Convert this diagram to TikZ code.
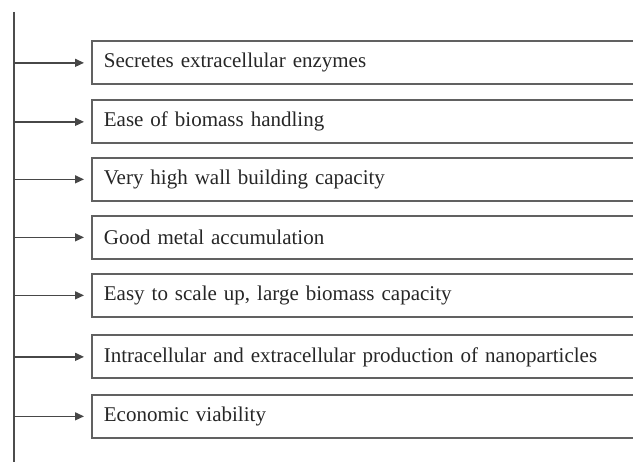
\documentclass[tikz,border=0pt]{standalone}
\usepackage{fontspec}
\setmainfont{Liberation Serif}
\usetikzlibrary{arrows.meta}
\begin{document}
\begin{tikzpicture}[x=1pt,y=1pt,
  line/.style={draw=black!62, line width=1.7pt},
  itembox/.style={line, anchor=north west, minimum height=43pt,
    text width=530pt, inner xsep=12pt, align=left,
    font=\fontsize{21}{24}\selectfont, text=black!85},
  link/.style={draw=black!72, line width=1.4pt,
    -{Triangle[length=9pt,width=8pt]}, shorten >=7pt}]
  \clip (0,0) rectangle (633,-462);
  \useasboundingbox (0,0) rectangle (633,-462);
  % spine
  \coordinate (top) at (14,-12);
  \coordinate (bottom) at (14,-462);
  \draw[draw=black!70, line width=1.5pt] (top) -- (bottom);
  % feature boxes
  \node[itembox] (b1) at (91,-40.5) {Secretes extracellular enzymes};
  \node[itembox] (b2) at (91,-99.5) {Ease of biomass handling};
  \node[itembox] (b3) at (91,-157) {Very high wall building capacity};
  \node[itembox] (b4) at (91,-215) {Good metal accumulation};
  \node[itembox] (b5) at (91,-273) {Easy to scale up, large biomass capacity};
  \node[itembox] (b6) at (91,-334.5) {Intracellular and extracellular production of nanoparticles};
  \node[itembox] (b7) at (91,-394) {Economic viability};
  % arrows from the spine
  \foreach \b in {b1,b2,b3,b4,b5,b6,b7}
    \draw[link] (top |- \b.west) -- (\b.west);
\end{tikzpicture}
\end{document}
